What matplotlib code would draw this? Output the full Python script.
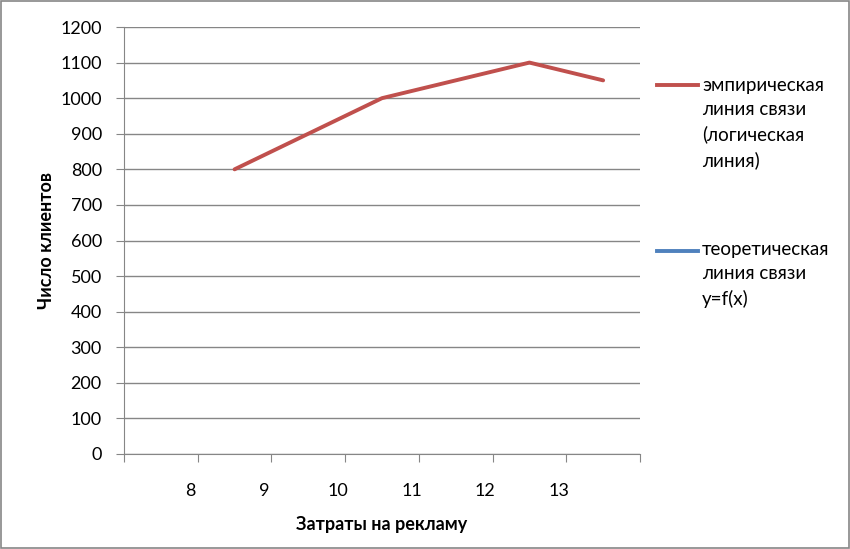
import matplotlib.pyplot as plt
from matplotlib.lines import Line2D
from matplotlib.patches import Rectangle

# category axis: 7 slots, labels sit on the slot boundaries
x_labels = ['8', '9', '10', '11', '12', '13']
n_slots = 7
emp_idx = [1, 3, 5, 6]
emp_vals = [800, 1000, 1100, 1050]
y_ticks = list(range(0, 1201, 100))

red = '#C0504D'
blue = '#4F81BD'
grey = '#868686'

plt.rcParams['font.family'] = ['Lato', 'DejaVu Sans']
plt.rcParams['font.size'] = 13

fig = plt.figure(figsize=(8.5, 5.49), dpi=100)
ax = fig.add_axes([124/850, 1-454/549, (640-124)/850, (454-27)/549])

ax.plot(emp_idx, emp_vals, color=red, linewidth=2.8, solid_capstyle='round')

ax.set_xlim(-0.5, n_slots - 0.5)
ax.set_ylim(0, 1200)
ax.set_yticks(y_ticks)
ax.yaxis.grid(True, color=grey, linewidth=1)
ax.set_axisbelow(True)

ax.set_xticks([i - 0.5 for i in range(n_slots + 1)])
ax.set_xticklabels([])
ax.set_xticks([i + 0.40 for i in range(len(x_labels))], minor=True)
ax.set_xticklabels(x_labels, minor=True)
ax.tick_params(axis='x', which='minor', length=0, pad=21)
ax.tick_params(axis='x', which='major', length=6, color=grey)
ax.tick_params(axis='y', length=6, color=grey, pad=10)

for s in ['top', 'right']:
    ax.spines[s].set_visible(False)
for s in ['left', 'bottom']:
    ax.spines[s].set_color(grey)

ax.set_xlabel('Затраты на рекламу', fontweight='bold', labelpad=12)
ax.set_ylabel('Число клиентов', fontweight='bold', labelpad=4)

# legend drawn to look like the Excel one
def px(x, y):
    return x / 850, 1 - y / 549

fig.add_artist(Line2D([px(657, 0)[0], px(698, 0)[0]], [px(0, 85)[1]] * 2,
                      color=red, linewidth=2.8, transform=fig.transFigure))
fig.add_artist(Line2D([px(657, 0)[0], px(698, 0)[0]], [px(0, 251)[1]] * 2,
                      color=blue, linewidth=2.8, transform=fig.transFigure))
fig.text(*px(702, 77), 'эмпирическая\nлиния связи\n(логическая\nлиния)',
         va='top', ha='left', linespacing=1.5, fontsize=13.5)
fig.text(*px(702, 241), 'теоретическая\nлиния связи\ny=f(x)',
         va='top', ha='left', linespacing=1.5, fontsize=13.5)

fig.add_artist(Rectangle((0.0006, 0.001), 0.9982, 0.997, fill=False,
                         edgecolor=grey, linewidth=1.2, transform=fig.transFigure))

fig.savefig('out.png', dpi=100)
